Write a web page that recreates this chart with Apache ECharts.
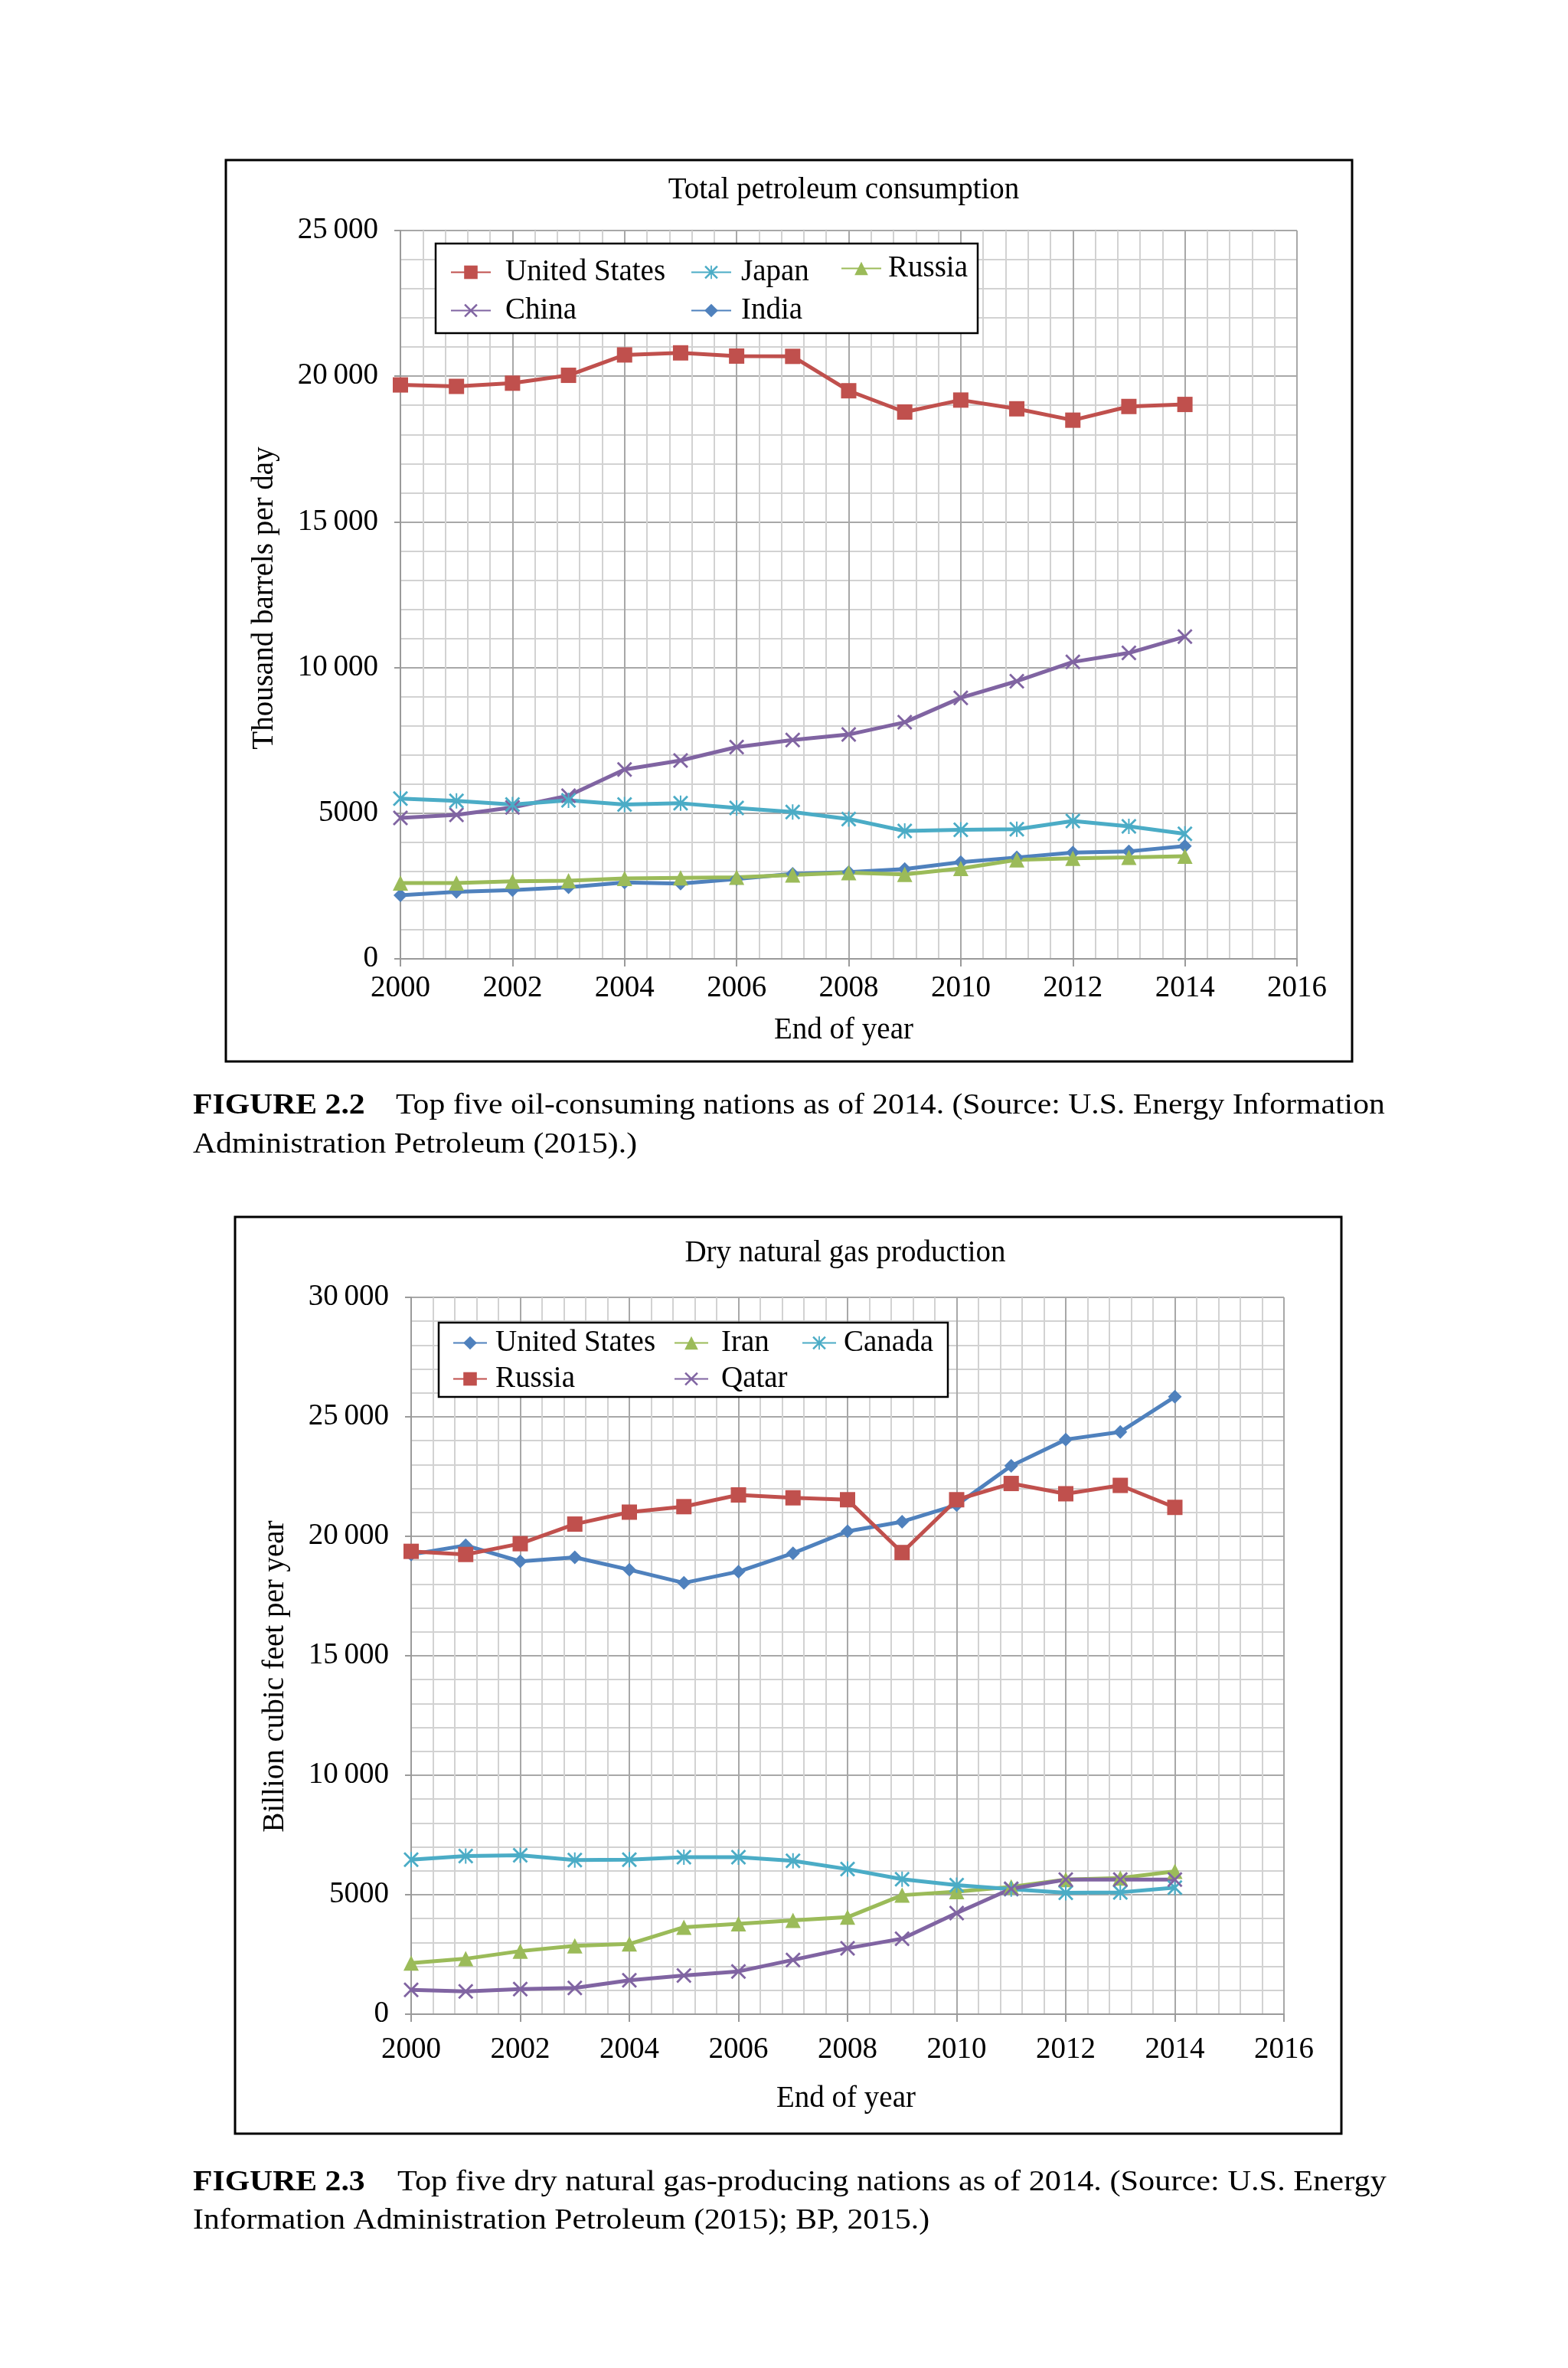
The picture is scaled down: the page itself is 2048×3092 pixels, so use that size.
<!DOCTYPE html>
<html>
<head>
<meta charset="utf-8">
<script src="https://cdn.jsdelivr.net/npm/echarts@6/dist/echarts.min.js"></script>
<style>
html,body{margin:0;padding:0;background:#fff;}
#main{width:2048px;height:3092px;}
</style>
</head>
<body>
<div id="main"></div>
<script>
// ---------- data ----------
const years = [2000,2001,2002,2003,2004,2005,2006,2007,2008,2009,2010,2011,2012,2013,2014];

// Figure 2.2: Total petroleum consumption (thousand barrels per day)
const oilUS     = [19700,19650,19760,20030,20730,20800,20690,20680,19500,18770,19180,18880,18490,18960,19030];
const oilChina  = [4840,4940,5200,5600,6500,6810,7270,7510,7700,8120,8960,9530,10190,10500,11060];
const oilJapan  = [5500,5420,5300,5440,5300,5340,5180,5040,4800,4390,4430,4450,4730,4550,4290];
const oilIndia  = [2180,2300,2360,2460,2620,2580,2740,2920,2980,3080,3320,3480,3650,3690,3870];
const oilRussia = [2600,2600,2660,2680,2760,2780,2800,2880,2960,2900,3100,3400,3450,3480,3520];

// Figure 2.3: Dry natural gas production (billion cubic feet per year)
const gasUS     = [19240,19620,18950,19120,18600,18050,18520,19290,20210,20610,21310,22950,24050,24370,25840];
const gasRussia = [19370,19240,19690,20510,21010,21240,21730,21610,21530,19320,21530,22210,21780,22130,21210];
const gasIran   = [2140,2320,2640,2860,2940,3640,3780,3930,4060,4980,5130,5330,5630,5700,5980];
const gasCanada = [6470,6620,6650,6450,6470,6570,6570,6420,6070,5650,5400,5230,5080,5100,5300];
const gasQatar  = [1020,950,1050,1100,1420,1620,1790,2270,2760,3160,4230,5250,5630,5630,5630];

const xTickYears = [2000, 2016, 2];      // min, max, interval
const oilTicks   = [0, 25000, 5000];
const gasTicks   = [0, 30000, 5000];

// ---------- style ----------
const FONT = 'Liberation Serif';
const C_BLUE = '#4F81BD', C_RED = '#C0504D', C_GREEN = '#9BBB59', C_PURPLE = '#8064A2', C_CYAN = '#4BACC6';
const X_PATH = 'path://M0,2 L2,0 L10,8 L18,0 L20,2 L12,10 L20,18 L18,20 L10,12 L2,20 L0,18 L8,10 Z';
const AST_PATH = X_PATH + ' M9,0 L11,0 L11,20 L9,20 Z';

function pairs(arr){ return years.map((y,i)=>[y,arr[i]]); }
function yFmt(v){ const s = String(v); return v >= 10000 ? s.slice(0, s.length-3) + '\u2009' + s.slice(-3) : s; }

function mkX(gridIndex, margin){
  return {
    type:'value', gridIndex, min:xTickYears[0], max:xTickYears[1], interval:xTickYears[2],
    axisLine:{show:true, onZero:false, lineStyle:{color:'#9a9a9a', width:2}},
    axisTick:{show:true, length:10, lineStyle:{color:'#9a9a9a', width:2}},
    axisLabel:{formatter:v=>String(v), fontFamily:FONT, fontSize:39, color:'#000', margin},
    splitLine:{show:true, lineStyle:{color:'#a8a8a8', width:2}},
    minorTick:{show:false, splitNumber:5},
    minorSplitLine:{show:true, lineStyle:{color:'#d2d2d2', width:2}}
  };
}
function mkY(gridIndex, ticks){
  return {
    type:'value', gridIndex, min:ticks[0], max:ticks[1], interval:ticks[2],
    axisLine:{show:true, lineStyle:{color:'#9a9a9a', width:2}},
    axisTick:{show:true, length:8, lineStyle:{color:'#9a9a9a', width:2}},
    axisLabel:{formatter:yFmt, fontFamily:FONT, fontSize:39, color:'#000', margin:29, padding:[12,0,0,0]},
    splitLine:{show:true, lineStyle:{color:'#a8a8a8', width:2}},
    minorTick:{show:false, splitNumber:5},
    minorSplitLine:{show:true, lineStyle:{color:'#d2d2d2', width:2}}
  };
}
function mkS(name, idx, arr, color, symbol, size){
  return {
    name, type:'line', xAxisIndex:idx, yAxisIndex:idx, data:pairs(arr),
    symbol, symbolSize:size, showSymbol:true,
    lineStyle:{color, width:5}, itemStyle:{color, borderColor:color, borderWidth:0},
    emphasis:{disabled:true}, animation:false, z:3
  };
}
function mkLegend(names, left, top, itemWidth, gap, padLeft){
  return {
    orient:'vertical', left, top, padding:0, itemGap:gap, itemWidth, itemHeight:22,
    data:names, formatter:n=>n.split('|')[1], selectedMode:false, z:6,
    textStyle:{fontFamily:FONT, fontSize:39, color:'#000', lineHeight:39, padding:[0,0,0,padLeft]}
  };
}
function txt(text, x, y, opts){
  const el = {type:'text', x, y, z:10, style:Object.assign({text, fontFamily:FONT, fontSize:39, fill:'#000', textAlign:'center', textVerticalAlign:'middle'}, (opts&&opts.style)||{})};
  if (opts && opts.rotation !== undefined) el.rotation = opts.rotation;
  if (opts && opts.scaleX !== undefined) el.scaleX = opts.scaleX;
  return el;
}
const CAP = {textAlign:'left', fontSize:38};
const CAPB = {textAlign:'left', fontSize:38, fontWeight:'bold'};
const SX = 1.097;

const option = {
  backgroundColor:'#fff',
  animation:false,
  grid:[
    {left:523, top:301, width:1171, height:951},
    {left:537, top:1694, width:1140, height:936}
  ],
  xAxis:[mkX(0,19), mkX(1,27)],
  yAxis:[mkY(0, oilTicks), mkY(1, gasTicks)],
  legend:[
    mkLegend(['oil|United States','oil|China'], 588, 336, 52, 11, 14),
    mkLegend(['oil|Japan','oil|India'], 902, 336, 52, 11, 8),
    mkLegend(['oil|Russia'], 1098, 331, 52, 11, 4),
    mkLegend(['gas|United States','gas|Russia'], 591, 1734, 44, 8, 6),
    mkLegend(['gas|Iran','gas|Qatar'], 880, 1734, 44, 8, 12),
    mkLegend(['gas|Canada'], 1047, 1734, 44, 8, 5)
  ],
  series:[
    mkS('oil|United States',0,oilUS,C_RED,'rect',20),
    mkS('oil|China',0,oilChina,C_PURPLE,X_PATH,20),
    mkS('oil|Japan',0,oilJapan,C_CYAN,AST_PATH,20),
    mkS('oil|India',0,oilIndia,C_BLUE,'diamond',18),
    mkS('oil|Russia',0,oilRussia,C_GREEN,'triangle',20),
    mkS('gas|United States',1,gasUS,C_BLUE,'diamond',18),
    mkS('gas|Russia',1,gasRussia,C_RED,'rect',20),
    mkS('gas|Iran',1,gasIran,C_GREEN,'triangle',20),
    mkS('gas|Canada',1,gasCanada,C_CYAN,AST_PATH,20),
    mkS('gas|Qatar',1,gasQatar,C_PURPLE,X_PATH,20)
  ],
  graphic:[
    // outer frames
    {type:'rect', z:1, shape:{x:295, y:209, width:1471, height:1177}, style:{fill:null, stroke:'#000', lineWidth:3}},
    {type:'rect', z:1, shape:{x:307, y:1589, width:1445, height:1197}, style:{fill:null, stroke:'#000', lineWidth:3}},
    // legend boxes
    {type:'rect', z:5, shape:{x:569, y:318, width:708, height:117}, style:{fill:'#fff', stroke:'#000', lineWidth:2.5}},
    {type:'rect', z:5, shape:{x:573, y:1727, width:665, height:97}, style:{fill:'#fff', stroke:'#000', lineWidth:2.5}},
    // chart titles
    txt('Total petroleum consumption', 1102, 249),
    txt('Dry natural gas production', 1104, 1637),
    // axis titles
    txt('End of year', 1102, 1346),
    txt('End of year', 1105, 2741),
    txt('Thousand barrels per day', 346, 781, {rotation:Math.PI/2}),
    txt('Billion cubic feet per year', 360, 2189, {rotation:Math.PI/2}),
    // captions
    txt('FIGURE 2.2', 252, 1444, {style:CAPB, scaleX:SX}),
    txt('Top five oil-consuming nations as of 2014. (Source: U.S. Energy Information', 517, 1444, {style:CAP, scaleX:SX}),
    txt('Administration Petroleum (2015).)', 252, 1495, {style:CAP, scaleX:SX}),
    txt('FIGURE 2.3', 252, 2850, {style:CAPB, scaleX:SX}),
    txt('Top five dry natural gas-producing nations as of 2014. (Source: U.S. Energy', 519, 2850, {style:CAP, scaleX:1.114}),
    txt('Information Administration Petroleum (2015); BP, 2015.)', 252, 2900, {style:CAP, scaleX:SX})
  ]
};

const chart = echarts.init(document.getElementById('main'), null, {renderer:'canvas', width:2048, height:3092});
chart.setOption(option);
</script>
</body>
</html>
